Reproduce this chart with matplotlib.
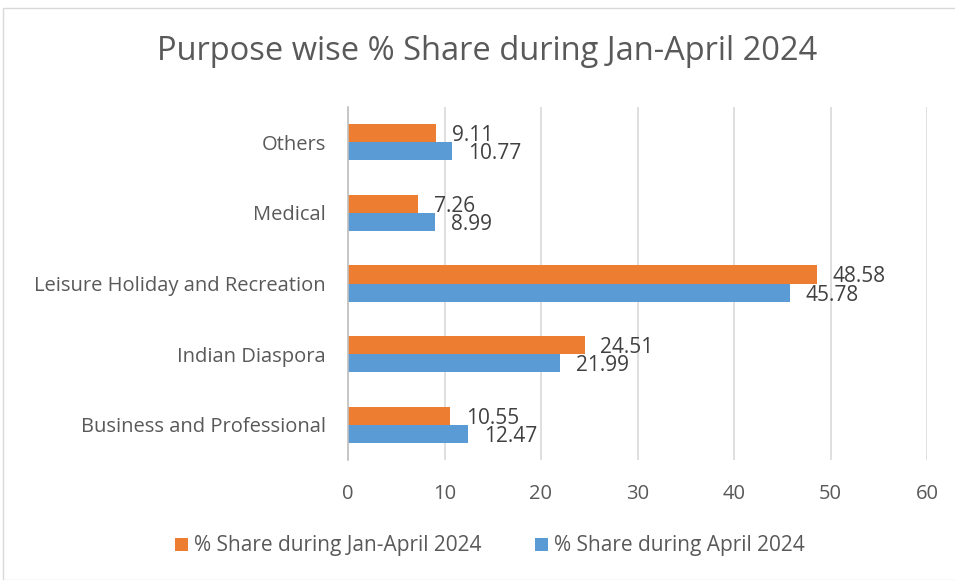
import matplotlib.pyplot as plt
import numpy as np
from matplotlib.patches import Rectangle

plt.rcParams['font.family'] = ['Open Sans', 'DejaVu Sans']

# Data
categories = ["Business and Professional", "Indian Diaspora", "Leisure Holiday and Recreation", "Medical", "Others"]
jan_april = [10.55, 24.51, 48.58, 7.26, 9.11]
april = [12.47, 21.99, 45.78, 8.99, 10.77]
xticks = [0, 10, 20, 30, 40, 50, 60]

orange = "#ED7D31"
blue = "#5B9BD5"
grey = "#595959"

fig = plt.figure(figsize=(9.55, 5.8), dpi=100)
ax = fig.add_axes([348 / 955, 1 - 460 / 580, 579 / 955, 353 / 580])

y = np.arange(len(categories))
h = 0.256
b1 = ax.barh(y + h / 2, jan_april, height=h, color=orange, label="% Share during Jan-April 2024")
b2 = ax.barh(y - h / 2, april, height=h, color=blue, label="% Share during April 2024")

# data labels, centred on each bar
for bars, vals in [(b1, jan_april), (b2, april)]:
    for bar, v in zip(bars, vals):
        ax.text(v + 1.65, bar.get_y() + bar.get_height() / 2, f"{v:.2f}", va="center_baseline", ha="left",
                fontsize=15, color="#404040")

ax.set_xlim(0, 60)
ax.set_ylim(-0.5, len(categories) - 0.5)
ax.set_xticks(xticks)
ax.set_yticks(y)
ax.set_yticklabels(categories)
ax.tick_params(axis="both", length=0, labelsize=14.5, colors=grey)
ax.tick_params(axis="x", pad=17)
ax.tick_params(axis="y", pad=16)
ax.grid(axis="x", color="#D9D9D9", linewidth=1.2)
ax.set_axisbelow(True)
for s in ["top", "right", "bottom"]:
    ax.spines[s].set_visible(False)
ax.spines["left"].set_color("#BFBFBF")
ax.spines["left"].set_linewidth(1.2)

fig.text(487 / 955, 1 - 52 / 580, "Purpose wise % Share during Jan-April 2024", ha="center", va="center",
         fontsize=23.5, color=grey)

handles, labels = ax.get_legend_handles_labels()
fig.legend(handles, labels, loc="center", bbox_to_anchor=(490 / 955, 1 - 546 / 580), ncol=2, frameon=False,
           fontsize=15, labelcolor=grey, handlelength=0.6, handleheight=0.6, handletextpad=0.3,
           columnspacing=2.6)

fig.patches.append(Rectangle((3 / 955, 0), 1, 1 - 8 / 580, transform=fig.transFigure, fill=False,
                             edgecolor="#D9D9D9", linewidth=1))

fig.savefig("out.png", dpi=100)
